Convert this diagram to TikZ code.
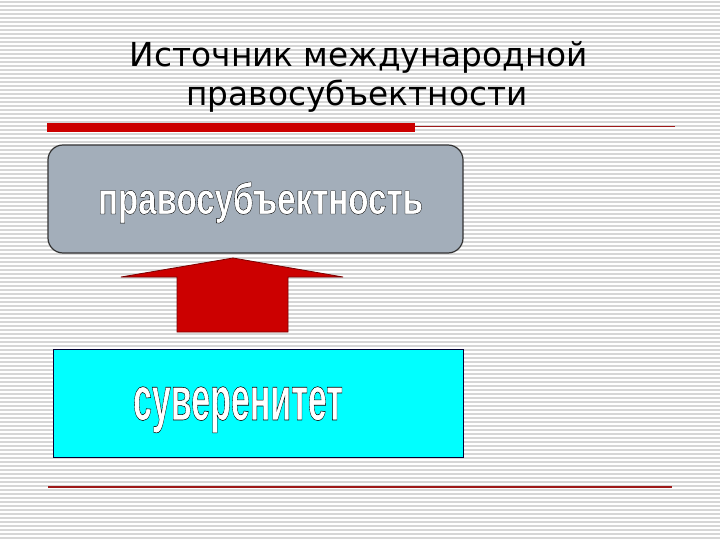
\documentclass[tikz,border=0pt]{standalone}
\usepackage{fontspec}
\usepackage{graphicx}
\newfontfamily\titlefont{DejaVu Sans}
\newfontfamily\artfont[FakeBold=0.9]{Liberation Sans}
\definecolor{barred}{HTML}{CC0000}
\definecolor{linered}{HTML}{9E1A1A}
\definecolor{boxgray}{HTML}{A3AEBA}
\definecolor{boxcyan}{HTML}{00FFFF}
\definecolor{stripegray}{HTML}{D6D6D6}
\tikzset{
  stripe/.style={draw=stripegray, line width=1.4pt},
  titletext/.style={anchor=base, inner sep=0pt, text=black},
  arttext/.style={anchor=base, inner sep=0pt, text=white},
  graybox/.style={draw=black!80, line width=1.2pt, fill=boxgray, rounded corners=15pt},
  cyanbox/.style={draw=black!80!blue, line width=1pt, fill=boxcyan},
  bigarrow/.style={fill=barred, draw=black!40!barred, line width=0.8pt, line join=miter},
  rule/.style={draw=linered, line width=1.1pt}
}
% white letters with a black outline (fake-bold stroke recoloured black)
\newcommand{\outlined}[3]{% width, size, text
  \resizebox{#1pt}{\height}{\fontsize{#2}{#2}\artfont\bfseries\special{pdf:code 0 0 0 RG}#3}}
\begin{document}
\begin{tikzpicture}[x=1pt, y=-1pt]
  \useasboundingbox (0,0) rectangle (720,540);
  \fill[white] (0,0) rectangle (720,540);
  \foreach \yy in {2,6,...,538} \draw[stripe] (0,\yy) -- (720,\yy);

  % title
  \node[titletext] (t1) at (359,67) {\resizebox{458pt}{\height}{\fontsize{33}{33}\titlefont Источник международной}};
  \node[titletext] (t2) at (357,106) {\resizebox{341pt}{\height}{\fontsize{33}{33}\titlefont правосубъектности}};

  % rules
  \fill[barred] (47,123) rectangle (415,132);
  \coordinate (r1a) at (415,126.5);
  \coordinate (r1b) at (675,126.5);
  \draw[rule] (r1a) -- (r1b);
  \coordinate (r2a) at (48,487);
  \coordinate (r2b) at (672,487);
  \draw[rule] (r2a) -- (r2b);

  % boxes
  \draw[graybox] (48,145) rectangle (463,253);
  \draw[cyanbox] (53,349) rectangle (463,457);

  % block arrow
  \draw[bigarrow] (233,258) -- (343,277) -- (288,277) -- (288,332) -- (177,332) -- (177,277) -- (121,277) -- cycle;

  % word art
  \node[arttext] (top) at (260.5,214) {\outlined{325}{44}{правосубъектность}};
  \node[arttext] (bottom) at (238,420) {\outlined{210}{62}{суверенитет}};
\end{tikzpicture}
\end{document}
